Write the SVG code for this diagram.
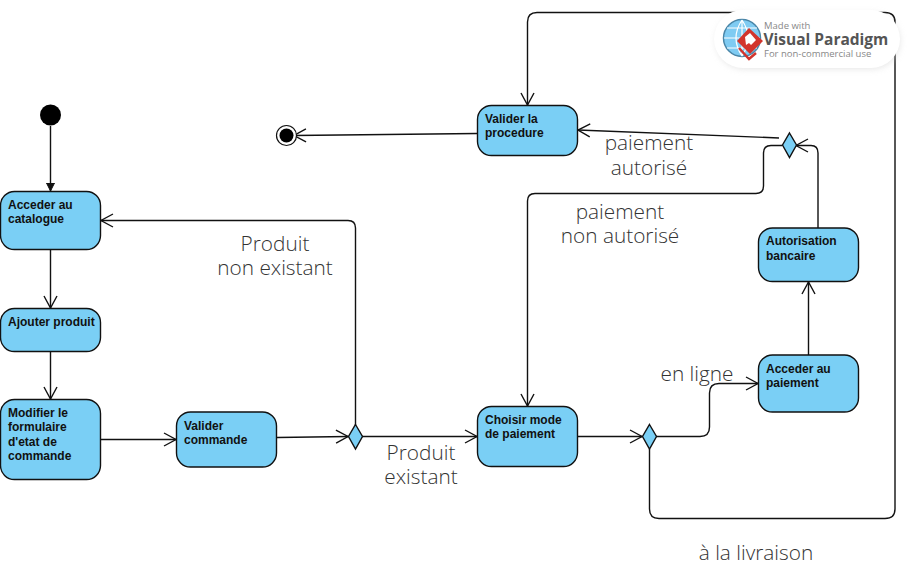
<svg xmlns="http://www.w3.org/2000/svg" width="909" height="567" viewBox="0 0 909 567">
<style>
.n{fill:#7ACFF5;stroke:#111;stroke-width:1.4}
.c{fill:none;stroke:#111;stroke-width:1.4}
.t{font:bold 12px "Liberation Sans",Arial,sans-serif;fill:#111}
.l{font:300 20.8px "Open Sans",sans-serif;fill:#333;text-anchor:middle}
</style>
<defs>
<marker id="a" markerUnits="userSpaceOnUse" markerWidth="16" markerHeight="16" refX="13" refY="8" orient="auto"><path d="M1 1.500L13 8L1 14.500" fill="none" stroke="#111" stroke-width="1.400"/></marker>
<marker id="f" markerUnits="userSpaceOnUse" markerWidth="10" markerHeight="10" refX="8" refY="5" orient="auto"><path d="M0 1L8 5L0 9Z" fill="#111" stroke="#111"/></marker>
<filter id="b" x="-10%" y="-30%" width="120%" height="160%"><feGaussianBlur stdDeviation="3"/></filter>
</defs>
<rect width="909" height="567" fill="#fff"/>
<g id="connectors">
<path class="c" marker-end="url(#f)" d="M50.500 126V191"/>
<path class="c" marker-end="url(#a)" d="M50.500 250V308"/>
<path class="c" marker-end="url(#a)" d="M50.500 352V399"/>
<path class="c" marker-end="url(#a)" d="M101 439.500H176"/>
<path class="c" marker-end="url(#a)" d="M277 437.500L348 436.500"/>
<path class="c" marker-end="url(#a)" d="M355.500 425V228Q355.500 220.500 348 220.500H101"/>
<path class="c" marker-end="url(#a)" d="M362 436.500H477"/>
<path class="c" marker-end="url(#a)" d="M578 436.500H642"/>
<path class="c" marker-end="url(#a)" d="M656 436.500H700Q709.500 436.500 709.500 427V393Q709.500 383.500 719 383.500H758"/>
<path class="c" marker-end="url(#a)" d="M808.500 355V282"/>
<path class="c" marker-end="url(#a)" d="M818 228V153Q818 145.500 811 145.500H796"/>
<path class="c" marker-end="url(#a)" d="M779 138L578 130"/>
<path class="c" marker-end="url(#a)" d="M782 145.500H771Q763.500 145.500 763.500 153V186Q763.500 193.500 756 193.500H535Q527.500 193.500 527.500 201V406"/>
<path class="c" marker-end="url(#a)" d="M649.500 449V509Q649.500 518.500 659 518.500H885Q895 518.500 895 509V22Q895 12.500 885 12.500H537Q527.500 12.500 527.500 22V105"/>
<path class="c" marker-end="url(#a)" d="M477 133.500L294 135.500"/>
</g>
<g id="start"><circle cx="50.500" cy="115" r="10.500" fill="#000"/></g>
<g id="end"><circle cx="286.500" cy="135.500" r="10" fill="#fff" stroke="#111" stroke-width="1.200"/><circle cx="286.500" cy="135.500" r="7" fill="#000"/></g>
<g id="n1"><rect class="n" x="0.500" y="191.500" width="100" height="58" rx="14"/><text class="t" x="8" y="209">Acceder au</text><text class="t" x="8" y="223">catalogue</text></g>
<g id="n2"><rect class="n" x="0.500" y="308.500" width="100" height="43" rx="14"/><text class="t" x="8" y="326">Ajouter produit</text></g>
<g id="n3"><rect class="n" x="0.500" y="399.500" width="100" height="80" rx="14"/><text class="t" x="8" y="417">Modifier le</text><text class="t" x="8" y="431">formulaire</text><text class="t" x="8" y="446">d'etat de</text><text class="t" x="8" y="460">commande</text></g>
<g id="n4"><rect class="n" x="176.500" y="412" width="100" height="55" rx="14"/><text class="t" x="184" y="430">Valider</text><text class="t" x="184" y="444">commande</text></g>
<g id="d1"><path class="n" d="M355.500 424.500L362.500 436.500L355.500 449L348.500 436.500Z"/></g>
<g id="n5"><rect class="n" x="477.500" y="406.500" width="100" height="60" rx="14"/><text class="t" x="485" y="424">Choisir mode</text><text class="t" x="485" y="438">de paiement</text></g>
<g id="d2"><path class="n" d="M649.500 424.500L656.500 436.500L649.500 449L642.500 436.500Z"/></g>
<g id="n6"><rect class="n" x="758.500" y="355" width="100" height="57" rx="14"/><text class="t" x="766" y="373">Acceder au</text><text class="t" x="766" y="387">paiement</text></g>
<g id="n7"><rect class="n" x="758.500" y="228" width="100" height="53.500" rx="14"/><text class="t" x="766" y="245">Autorisation</text><text class="t" x="766" y="260">bancaire</text></g>
<g id="d3"><path class="n" d="M789.500 133L796.500 145L789.500 157.500L782.500 145Z"/></g>
<g id="n8"><rect class="n" x="477.500" y="105.500" width="100" height="50" rx="14"/><text class="t" x="485" y="123">Valider la</text><text class="t" x="485" y="137">procedure</text></g>
<g id="labels">
<text class="l" x="275" y="251">Produit</text><text class="l" x="275" y="275">non existant</text>
<text class="l" x="421" y="460">Produit</text><text class="l" x="421" y="484">existant</text>
<text class="l" x="649" y="150">paiement</text><text class="l" x="649" y="175">autorisé</text>
<text class="l" x="620" y="219">paiement</text><text class="l" x="620" y="243">non autorisé</text>
<text class="l" x="697" y="381">en ligne</text>
<text class="l" x="756" y="560">à la livraison</text>
</g>
<g id="watermark">
<rect x="716" y="13" width="184" height="56" rx="28" fill="#ccc" opacity=".5" filter="url(#b)"/>
<rect x="714" y="10" width="186" height="58" rx="29" fill="#fff"/>
<circle cx="742" cy="38" r="18.500" fill="#7FCBF2" stroke="#4A86A8" stroke-width="1.500"/>
<path d="M724 38H760M742 20V56M742 20Q730 38 742 56M742 20Q754 38 742 56M727 28H757M727 48H757" fill="none" stroke="#fff" stroke-width="1.200"/>
<path d="M749 28L763 41L750 54L737 41Z" fill="#D2342C"/>
<path d="M745 37L750 33L756 40L751 45L749 43L746 45Z" fill="#fff"/>
<path d="M739 48L749 59L756 53" fill="none" stroke="#D2342C" stroke-width="2.500"/>
<text x="764" y="28.500" font-family="'Open Sans',sans-serif" font-size="9.500" fill="#888">Made with</text>
<text x="763.500" y="45" font-family="'Open Sans',sans-serif" font-size="15.500" font-weight="700" fill="#555">Visual Paradigm</text>
<text x="764" y="57" font-family="'Open Sans',sans-serif" font-size="9.500" fill="#888">For non-commercial use</text>
</g>
</svg>
